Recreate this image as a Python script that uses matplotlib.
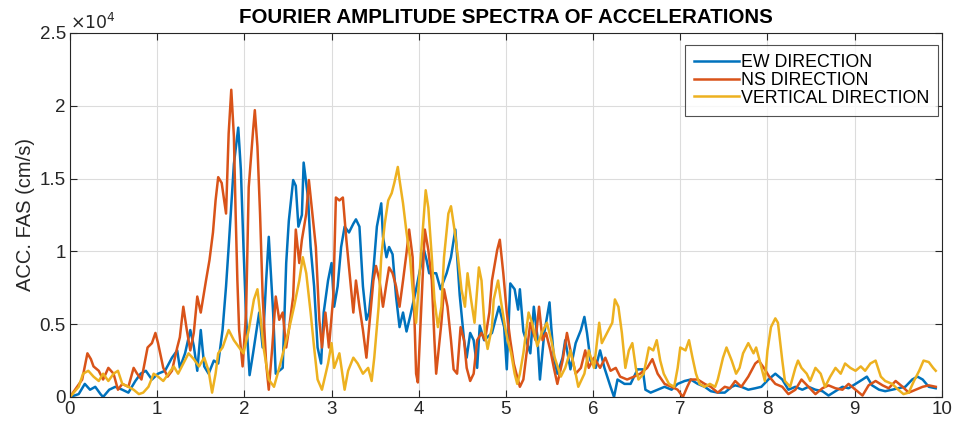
import matplotlib
matplotlib.use('Agg')
import matplotlib.pyplot as plt
from matplotlib.ticker import FuncFormatter

plt.rcParams['font.family'] = ['Liberation Sans', 'DejaVu Sans']

# values (frequency in Hz, amplitude in cm/s)
ew_freq = [0.00, 0.10, 0.17, 0.23, 0.29, 0.35, 0.38, 0.45, 0.52, 0.60, 0.67, 0.75, 0.81, 0.87, 0.94,
           1.01, 1.09, 1.17, 1.23, 1.26, 1.32, 1.38, 1.42, 1.46, 1.50, 1.54, 1.59, 1.65, 1.70, 1.75,
           1.79, 1.82, 1.88, 1.93, 1.96, 1.99, 2.02, 2.06, 2.10, 2.17, 2.21, 2.25, 2.28, 2.33, 2.36,
           2.44, 2.48, 2.51, 2.56, 2.59, 2.62, 2.66, 2.68, 2.73, 2.76, 2.80, 2.84, 2.88, 2.91, 2.96,
           3.00, 3.03, 3.07, 3.11, 3.15, 3.20, 3.25, 3.28, 3.32, 3.36, 3.40, 3.43, 3.48, 3.52, 3.57,
           3.59, 3.63, 3.66, 3.70, 3.74, 3.78, 3.82, 3.86, 3.90, 3.97, 4.06, 4.09, 4.12, 4.20, 4.25,
           4.32, 4.37, 4.42, 4.47, 4.52, 4.55, 4.59, 4.63, 4.67, 4.70, 4.75, 4.84, 4.92, 4.98, 5.01,
           5.05, 5.10, 5.14, 5.16, 5.20, 5.28, 5.32, 5.36, 5.39, 5.44, 5.50, 5.52, 5.55, 5.59, 5.65,
           5.68, 5.74, 5.80, 5.86, 5.90, 5.93, 5.97, 6.03, 6.08, 6.13, 6.20, 6.24, 6.28, 6.36, 6.43,
           6.51, 6.57, 6.60, 6.66, 6.74, 6.82, 6.90, 6.97, 7.05, 7.12, 7.20, 7.28, 7.35, 7.43, 7.51,
           7.59, 7.63, 7.70, 7.78, 7.86, 7.93, 8.01, 8.09, 8.17, 8.24, 8.32, 8.40, 8.47, 8.55, 8.63,
           8.70, 8.78, 8.86, 8.93, 9.01, 9.09, 9.14, 9.20, 9.28, 9.35, 9.43, 9.50, 9.58, 9.66, 9.72,
           9.78, 9.85, 9.93]
ew_fas = [0, 200, 900, 500, 700, 200, 0, 500, 700, 500, 300, 1100, 1600, 1800, 1200,
          1600, 1800, 2700, 3200, 2000, 3000, 4600, 3500, 1800, 4600, 2100, 1600, 2500, 2300, 4600,
          7600, 10300, 16000, 18500, 15600, 10300, 5500, 1500, 3000, 5800, 3400, 8000, 11000, 5800, 1600,
          2000, 9200, 12100, 14900, 14500, 11700, 12500, 16100, 13700, 10300, 7600, 3400, 2300, 5800, 8000,
          9200, 6200, 7600, 10300, 11700, 11300, 11900, 12200, 11700, 7600, 5300, 5800, 8700, 11700, 13300,
          11000, 9600, 10300, 9800, 6900, 4800, 5800, 4500, 5500, 7400, 10100, 9400, 8500, 8500, 7400,
          8500, 9600, 11500, 7000, 3900, 2700, 4400, 3900, 2000, 4900, 3900, 4400, 6200, 4800, 1900,
          7800, 7400, 6000, 7400, 4500, 3000, 6200, 4200, 1200, 4400, 6500, 4800, 2700, 1600, 2700,
          3900, 1900, 3700, 4600, 5500, 4400, 2500, 2000, 3200, 2000, 700, 0, 1200, 900, 900,
          1900, 1900, 500, 300, 500, 700, 500, 900, 1100, 1200, 900, 700, 400, 300, 300,
          700, 800, 700, 500, 600, 700, 1200, 1600, 1200, 500, 700, 500, 700, 500, 400,
          100, 400, 700, 600, 900, 1200, 1400, 800, 500, 400, 500, 600, 700, 1200, 1400,
          1200, 700, 600]

ns_freq = [0.00, 0.14, 0.20, 0.24, 0.27, 0.33, 0.38, 0.44, 0.50, 0.55, 0.60, 0.67, 0.73, 0.77, 0.82,
           0.89, 0.94, 0.98, 1.01, 1.07, 1.12, 1.17, 1.23, 1.26, 1.30, 1.34, 1.38, 1.42, 1.46, 1.50,
           1.56, 1.60, 1.64, 1.67, 1.70, 1.74, 1.79, 1.82, 1.85, 1.88, 1.90, 1.92, 1.94, 1.98, 2.02,
           2.05, 2.10, 2.12, 2.15, 2.18, 2.21, 2.25, 2.28, 2.32, 2.36, 2.40, 2.44, 2.48, 2.51, 2.56,
           2.59, 2.63, 2.66, 2.71, 2.74, 2.78, 2.82, 2.86, 2.89, 2.93, 2.97, 3.02, 3.05, 3.09, 3.13,
           3.17, 3.20, 3.25, 3.28, 3.32, 3.36, 3.40, 3.44, 3.48, 3.51, 3.55, 3.59, 3.63, 3.66, 3.70,
           3.74, 3.78, 3.82, 3.86, 3.89, 3.93, 3.97, 3.99, 4.03, 4.07, 4.11, 4.15, 4.18, 4.20, 4.26,
           4.29, 4.33, 4.37, 4.40, 4.44, 4.48, 4.52, 4.55, 4.59, 4.63, 4.67, 4.72, 4.76, 4.81, 4.84,
           4.90, 4.93, 4.97, 5.01, 5.05, 5.09, 5.12, 5.16, 5.20, 5.28, 5.34, 5.38, 5.42, 5.46, 5.51,
           5.55, 5.59, 5.65, 5.70, 5.74, 5.80, 5.86, 5.91, 5.95, 6.01, 6.08, 6.14, 6.20, 6.26, 6.31,
           6.39, 6.47, 6.54, 6.62, 6.68, 6.74, 6.82, 6.90, 6.97, 7.03, 7.08, 7.12, 7.20, 7.28, 7.35,
           7.43, 7.51, 7.57, 7.63, 7.70, 7.78, 7.86, 7.90, 7.97, 8.02, 8.09, 8.17, 8.24, 8.32, 8.39,
           8.47, 8.55, 8.63, 8.70, 8.78, 8.86, 8.93, 9.01, 9.09, 9.16, 9.24, 9.32, 9.39, 9.47, 9.55,
           9.62, 9.70, 9.78, 9.85, 9.93]
ns_fas = [0, 1200, 3000, 2600, 2100, 1800, 1200, 2000, 1600, 500, 900, 700, 2000, 1600, 1200,
          3400, 3700, 4400, 3700, 2000, 1400, 1800, 3400, 4100, 6200, 4600, 3200, 4400, 6900, 5800,
          8000, 9400, 11300, 13500, 15100, 14700, 12600, 18100, 21100, 17900, 12600, 8000, 4600, 2100, 5800,
          14400, 18300, 19700, 17200, 12600, 6900, 2300, 500, 3400, 6900, 5300, 5800, 3400, 4600, 6900,
          11500, 9200, 10800, 12600, 14900, 12600, 10300, 5300, 3400, 5800, 3400, 6900, 13700, 13500, 13700,
          10800, 8900, 5800, 8000, 6200, 4600, 2700, 5400, 8000, 9000, 8000, 6200, 7800, 8900, 8500,
          7600, 6200, 8000, 9900, 11500, 9600, 1600, 1000, 6200, 11500, 10100, 8000, 3900, 1600, 5100,
          7400, 6200, 3900, 1900, 1600, 4800, 3900, 2000, 1100, 1600, 3900, 4400, 3900, 5800, 8000,
          10100, 10800, 8500, 5800, 3900, 2300, 1600, 700, 1200, 5100, 3900, 6200, 3900, 4400, 3200,
          2000, 900, 2500, 4400, 3200, 1600, 2000, 3200, 2000, 2700, 2000, 2700, 1800, 2000, 1400,
          1200, 1400, 1600, 2000, 2600, 1600, 900, 700, 500, 0, 700, 1200, 1200, 900, 700,
          300, 700, 600, 1100, 700, 1400, 2300, 2500, 1900, 1400, 900, 700, 200, 500, 1200,
          700, 200, 600, 800, 600, 500, 900, 500, 100, 800, 1100, 800, 600, 1100, 700,
          300, 500, 700, 800, 700]

vt_freq = [0.00, 0.10, 0.15, 0.21, 0.27, 0.33, 0.38, 0.44, 0.50, 0.55, 0.60, 0.67, 0.73, 0.79, 0.84,
           0.90, 0.96, 1.01, 1.07, 1.13, 1.19, 1.24, 1.30, 1.36, 1.42, 1.48, 1.54, 1.59, 1.63, 1.67,
           1.70, 1.75, 1.82, 1.88, 1.94, 1.99, 2.05, 2.11, 2.15, 2.18, 2.22, 2.28, 2.34, 2.40, 2.46,
           2.51, 2.57, 2.63, 2.67, 2.71, 2.76, 2.80, 2.84, 2.89, 2.96, 3.00, 3.03, 3.09, 3.15, 3.19,
           3.25, 3.30, 3.36, 3.42, 3.46, 3.49, 3.54, 3.57, 3.61, 3.65, 3.69, 3.72, 3.76, 3.78, 3.82,
           3.86, 3.90, 3.93, 3.97, 4.01, 4.06, 4.08, 4.11, 4.15, 4.18, 4.22, 4.26, 4.29, 4.34, 4.37,
           4.41, 4.45, 4.49, 4.53, 4.56, 4.60, 4.64, 4.69, 4.72, 4.76, 4.79, 4.84, 4.86, 4.91, 4.94,
           4.99, 5.02, 5.06, 5.10, 5.13, 5.16, 5.20, 5.26, 5.30, 5.36, 5.41, 5.47, 5.52, 5.56, 5.63,
           5.68, 5.74, 5.80, 5.83, 5.90, 5.95, 6.01, 6.07, 6.10, 6.16, 6.22, 6.25, 6.29, 6.33, 6.37,
           6.41, 6.45, 6.49, 6.52, 6.58, 6.64, 6.69, 6.73, 6.77, 6.81, 6.87, 6.93, 6.97, 7.00, 7.06,
           7.10, 7.14, 7.18, 7.22, 7.28, 7.34, 7.40, 7.43, 7.49, 7.53, 7.59, 7.64, 7.68, 7.72, 7.78,
           7.84, 7.87, 7.91, 7.97, 8.00, 8.04, 8.09, 8.12, 8.17, 8.20, 8.26, 8.32, 8.35, 8.39, 8.45,
           8.49, 8.55, 8.61, 8.66, 8.72, 8.78, 8.84, 8.89, 8.95, 9.01, 9.07, 9.12, 9.18, 9.24, 9.30,
           9.35, 9.43, 9.50, 9.56, 9.62, 9.68, 9.74, 9.79, 9.85, 9.90, 9.93]
vt_fas = [0, 700, 1600, 1800, 1400, 1100, 1600, 1100, 1600, 1800, 900, 700, 500, 200, 300,
          700, 1600, 1400, 1100, 1600, 2100, 1600, 2300, 3000, 2600, 2100, 2700, 1800, 300, 1600,
          3000, 3400, 4600, 3900, 3400, 3000, 4600, 6700, 7400, 5800, 3400, 1200, 700, 2000, 3400,
          4600, 6200, 8000, 9600, 8500, 5800, 3400, 1200, 500, 2300, 3700, 2000, 3000, 500, 1800,
          2700, 2300, 1600, 2000, 1100, 2700, 6200, 9600, 11900, 13500, 14000, 14700, 15800, 14900, 13300,
          11300, 9600, 7400, 5100, 8500, 12600, 14200, 13000, 9600, 6700, 4800, 6200, 9600, 12600, 13100,
          11500, 9600, 7400, 6200, 8500, 6700, 5100, 8900, 8000, 4400, 3300, 4800, 6700, 8000, 6700,
          4800, 3900, 3000, 1600, 900, 1600, 3000, 5800, 5100, 3500, 4400, 5100, 3900, 2700, 1400,
          2000, 3200, 1600, 700, 1600, 3200, 2000, 5100, 3700, 4400, 5100, 6700, 6200, 4400, 2000,
          3200, 3700, 2000, 1200, 1600, 3400, 3200, 3900, 2500, 1600, 900, 700, 2000, 3400, 3200,
          3900, 2700, 1600, 900, 700, 900, 700, 1200, 2700, 3400, 2500, 1600, 2000, 3000, 3700,
          3000, 3400, 2500, 1100, 3200, 4800, 5400, 5100, 2500, 1100, 700, 2000, 2500, 2000, 1600,
          1100, 2000, 1600, 700, 1400, 2000, 1600, 2300, 2000, 1800, 2100, 1800, 2300, 2500, 1400,
          1100, 900, 500, 200, 300, 1100, 1800, 2500, 2400, 2000, 1800]

series_labels = ['EW DIRECTION', 'NS DIRECTION', 'VERTICAL DIRECTION']
series_colors = ['#0072BD', '#D95319', '#EDB120']

fig = plt.figure(figsize=(9.56, 4.29), dpi=100)
ax = fig.add_axes([0.0732, 0.0746, 0.912, 0.8485])

ax.plot(ew_freq, ew_fas, color=series_colors[0], lw=1.8, label=series_labels[0])
ax.plot(ns_freq, ns_fas, color=series_colors[1], lw=1.8, label=series_labels[1])
ax.plot(vt_freq, vt_fas, color=series_colors[2], lw=1.8, label=series_labels[2])

ax.set_xlim(0, 10)
ax.set_ylim(0, 25000)
ax.set_xticks(range(0, 11))
ax.set_yticks([0, 5000, 10000, 15000, 20000, 25000])
ax.yaxis.set_major_formatter(FuncFormatter(lambda v, p: '{:g}'.format(v / 1e4)))
ax.grid(True, color='#dcdcdc', lw=0.8)
ax.set_axisbelow(True)
ax.tick_params(direction='in', top=True, right=True, length=5, width=0.8,
               labelsize=13.5, colors='#262626', pad=3)
for s in ax.spines.values():
    s.set_color('#262626')
    s.set_linewidth(0.8)

ax.text(0.0, 1.003, r'$\times10^{4}$', transform=ax.transAxes, fontsize=12.5,
        color='#262626', ha='left', va='bottom')
ax.set_ylabel('ACC. FAS (cm/s)', fontsize=14.5, color='#262626', labelpad=3)
ax.set_title('FOURIER AMPLITUDE SPECTRA OF ACCELERATIONS', fontsize=14.8,
             fontweight='bold', pad=7)

leg = ax.legend(loc='upper right', bbox_to_anchor=(0.9954, 0.967), fontsize=12.8,
                frameon=True, fancybox=False, edgecolor='#262626', handlelength=2.5,
                handletextpad=0.1, labelspacing=0.05, borderpad=0.5, borderaxespad=0)
leg.get_frame().set_linewidth(0.8)

fig.savefig('out.png', dpi=100)
